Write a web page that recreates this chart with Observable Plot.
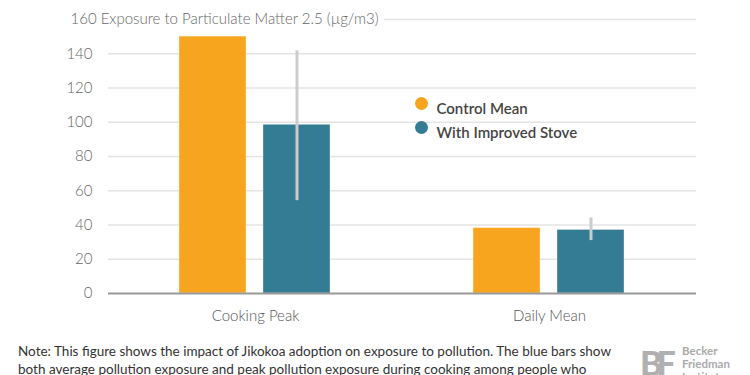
<!DOCTYPE html>
<html>
<head>
<meta charset="utf-8">
<script src="https://cdn.jsdelivr.net/npm/d3@7"></script>
<script src="https://cdn.jsdelivr.net/npm/@observablehq/plot@0.6"></script>
<style>
  body { margin: 0; background: #fff; }
  #wrap { position: relative; width: 750px; height: 375px; overflow: hidden; font-family: Lato, "Open Sans", sans-serif; }
  #note { position: absolute; left: 18px; top: 342px; width: 610px; font-size: 13.5px; line-height: 18px; color: #333; font-weight: 400; }
  #logo { position: absolute; left: 640px; top: 344px; color: #aaa; }
  #logo .bf { position: absolute; left: 0; top: -2px; font-size: 34px; font-weight: 900; letter-spacing: -6px; color: #b0b0b0; }
  #logo .name { position: absolute; left: 42px; top: 0; font-size: 11.5px; line-height: 13px; font-weight: 700; color: #aaa; }
</style>
</head>
<body>
<div id="wrap">
  <div id="chart"></div>
  <div id="note">Note: This figure shows the impact of Jikokoa adoption on exposure to pollution. The blue bars show both average pollution exposure and peak pollution exposure during cooking among people who</div>
  <div id="logo"><span class="bf">BF</span><span class="name">Becker<br>Friedman<br>Institute</span></div>
</div>
<script>
const categories = ["Cooking Peak", "Daily Mean"];
const series = ["Control Mean", "With Improved Stove"];
const controlMean = [150, 38.2];
const improvedStove = [98.5, 37.1];
const stoveLow = [54.2, 30.9];
const stoveHigh = [141.7, 44.1];
const yTicks = [0, 20, 40, 60, 80, 100, 120, 140];
const yTitle = "160 Exposure to Particulate Matter 2.5 (µg/m3)";
const colors = ["#F7A51E", "#347B94"];

const bars = [];
categories.forEach((c, i) => {
  bars.push({cat: c, series: series[0], value: controlMean[i]});
  bars.push({cat: c, series: series[1], value: improvedStove[i]});
});
const errs = categories.map((c, i) => ({cat: c, series: series[1], lo: stoveLow[i], hi: stoveHigh[i]}));
const legend = series.map((s, i) => ({cat: categories[1], series: s, i}));

const axisFont = "Lato, 'Open Sans', sans-serif";

const chart = Plot.plot({
  width: 750,
  height: 338,
  marginLeft: 108,
  marginRight: 54,
  marginTop: 19,
  marginBottom: 45,
  style: {fontFamily: axisFont, background: "#fff"},
  fx: {domain: categories, padding: 0, label: null, axis: null},
  x: {domain: series, axis: null, paddingInner: 0.2, paddingOuter: 0.85},
  y: {domain: [0, 160], axis: null},
  color: {domain: series, range: colors},
  marks: [
    Plot.ruleY([160, ...yTicks.filter(d => d > 0)], {stroke: "#e4e4e4", strokeWidth: 1.5}),
    Plot.axisFx({anchor: "bottom", tickSize: 0, tickPadding: 17, fontSize: 15, fill: "#555", fontWeight: 300, label: null}),
    Plot.text([{cat: categories[0]}], {fx: "cat", y: () => 160, text: () => yTitle, frameAnchor: "left", dx: -38, textAnchor: "start", fontSize: 15, fill: "#666", fontWeight: 300, stroke: "white", strokeWidth: 12, paintOrder: "stroke"}),
    Plot.text(yTicks.map(v => ({cat: categories[0], v})), {fx: "cat", y: "v", text: d => String(d.v), frameAnchor: "left", dx: -16, textAnchor: "end", fontSize: 15, fill: "#666", fontWeight: 300}),
    Plot.barY(bars, {fx: "cat", x: "series", y: "value", fill: "series", stroke: "white", strokeOpacity: 0.35, strokeWidth: 1}),
    Plot.ruleX(errs, {fx: "cat", x: "series", y1: "lo", y2: "hi", stroke: "#cccccc", strokeWidth: 3}),
    Plot.ruleY([0], {stroke: "#999", strokeWidth: 2}),
    Plot.dot(legend.slice(0,1), {fx: "cat", frameAnchor: "top-left", dx: 19, dy: 84, fill: colors[0], r: 6.5}),
    Plot.dot(legend.slice(1,2), {fx: "cat", frameAnchor: "top-left", dx: 19, dy: 108, fill: colors[1], r: 6.5}),
    Plot.text(legend.slice(0,1), {fx: "cat", frameAnchor: "top-left", dx: 34, dy: 84, text: "series", textAnchor: "start", fontSize: 15, fontWeight: 600, fill: "#444"}),
    Plot.text(legend.slice(1,2), {fx: "cat", frameAnchor: "top-left", dx: 34, dy: 108, text: "series", textAnchor: "start", fontSize: 15, fontWeight: 600, fill: "#444"})
  ]
});
document.getElementById("chart").appendChild(chart);
</script>
</body>
</html>
